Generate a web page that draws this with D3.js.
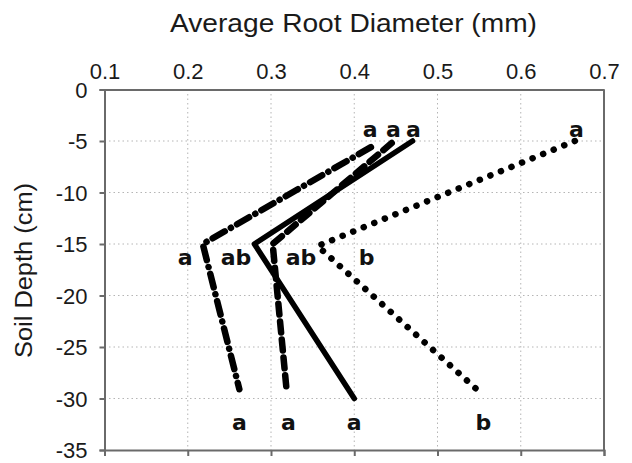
<!DOCTYPE html>
<html>
<head>
<meta charset="utf-8">
<script src="https://cdn.jsdelivr.net/npm/d3@7"></script>
<style>
  body { margin: 0; background: #fff; }
  svg { font-family: "Liberation Sans", Arial, sans-serif; }
</style>
</head>
<body>
<div id="chart"></div>
<script>
// depth of each sampling point (cm)
const depthTop = -5, depthMid = -15, depthLow = -30;

// root diameter (mm) for each treatment, at -5, -15, -30 cm
const solidVals = [0.47, 0.28, 0.40];
const dashedVals = [0.445, 0.302, 0.319];
const dashDotVals = [0.42, 0.218, 0.262];
const dottedVals = [0.665, 0.356, 0.547];
// the patterned lines stop a little above -30 in the picture
const solidDepths = [depthTop, depthMid, depthLow];
const dashedDepths = [-5.2, -15, -29.4];
const dashDotDepths = [-5.6, -15, -29.1];
const dottedDepths = [-5, -15.2, -29.1];

// significance letters: [x in mm, y in cm, text]
const topLetters = [[0.419, -3.9, 'a'], [0.447, -3.9, 'a'], [0.471, -3.9, 'a'], [0.667, -3.9, 'a']];
const midLetters = [[0.197, -16.3, 'a'], [0.258, -16.3, 'ab'], [0.336, -16.3, 'ab'], [0.415, -16.3, 'b']];
const lowLetters = [[0.262, -32.3, 'a'], [0.321, -32.3, 'a'], [0.4, -32.3, 'a'], [0.555, -32.3, 'b']];

const xTicks = [0.1, 0.2, 0.3, 0.4, 0.5, 0.6, 0.7];
const yTicks = [0, -5, -10, -15, -20, -25, -30, -35];

const width = 632, height = 463;
const margin = { top: 89.5, right: 28, bottom: 13, left: 104.5 };
const innerWidth = width - margin.left - margin.right;
const innerHeight = height - margin.top - margin.bottom;

const svg = d3.select('#chart').append('svg')
  .attr('width', width)
  .attr('height', height);

const x = d3.scaleLinear().domain([0.1, 0.7]).range([0, innerWidth]);
const y = d3.scaleLinear().domain([0, -35]).range([0, innerHeight]);

const g = svg.append('g').attr('transform', `translate(${margin.left},${margin.top})`);

// dotted grid
g.append('g').selectAll('line').data(xTicks.slice(1, -1))
  .enter().append('line')
  .attr('x1', d => x(d)).attr('x2', d => x(d))
  .attr('y1', 0).attr('y2', innerHeight)
  .attr('stroke', '#b5b5b5').attr('stroke-dasharray', '1.5 3');
g.append('g').selectAll('line').data(yTicks.slice(1, -1))
  .enter().append('line')
  .attr('y1', d => y(d)).attr('y2', d => y(d))
  .attr('x1', 0).attr('x2', innerWidth)
  .attr('stroke', '#b5b5b5').attr('stroke-dasharray', '1.5 3');

// axes
const axisColor = '#6a6a6a';
const leftAxis = g.append('g')
  .call(d3.axisLeft(y).tickValues(yTicks).tickFormat(d => String(d)).tickSize(5).tickPadding(12));
const topAxis = g.append('g')
  .call(d3.axisTop(x).tickValues(xTicks).tickFormat(d => d.toFixed(1)).tickSize(0).tickPadding(10.5));
const bottomAxis = g.append('g').attr('transform', `translate(0,${innerHeight})`)
  .call(d3.axisBottom(x).tickValues(xTicks).tickSize(6).tickFormat(''));
g.append('line')
  .attr('x1', innerWidth).attr('x2', innerWidth)
  .attr('y1', 0).attr('y2', innerHeight)
  .attr('stroke', axisColor).attr('stroke-width', 2);

[leftAxis, topAxis, bottomAxis].forEach(a => {
  a.attr('font-size', 22).attr('font-family', '"Liberation Sans", Arial, sans-serif');
  a.select('.domain').attr('stroke', axisColor).attr('stroke-width', 2);
  a.selectAll('.tick line').attr('stroke', axisColor).attr('stroke-width', 2);
  a.selectAll('text').attr('fill', '#1a1a1a');
});
leftAxis.selectAll('text').attr('dy', '0.36em');

// series lines
const line = d3.line().x(d => x(d[0])).y(d => y(d[1]));
const series = [
  { vals: dashDotVals, depths: dashDotDepths, dash: '14 7 0.1 7', w: 6.5 },
  { vals: dashedVals, depths: dashedDepths, dash: '11 7', w: 6.5 },
  { vals: dottedVals, depths: dottedDepths, dash: '0.1 11.3', w: 6.5 },
  { vals: solidVals, depths: solidDepths, dash: null, w: 5.5 }
];
series.forEach(s => {
  g.append('path')
    .datum(s.vals.map((v, i) => [v, s.depths[i]]))
    .attr('d', line)
    .attr('fill', 'none')
    .attr('stroke', '#000')
    .attr('stroke-width', s.w)
    .attr('stroke-linecap', 'round')
    .attr('stroke-linejoin', 'round')
    .attr('stroke-dasharray', s.dash);
});

// letters
g.append('g').selectAll('text').data(topLetters.concat(midLetters, lowLetters))
  .enter().append('text')
  .attr('x', d => x(d[0]))
  .attr('y', d => y(d[1]))
  .attr('dy', '0.35em')
  .attr('text-anchor', 'middle')
  .attr('font-size', 22)
  .attr('font-weight', 'bold')
  .attr('font-family', '"DejaVu Sans", sans-serif')
  .attr('fill', '#111')
  .text(d => d[2]);

// titles
svg.append('text')
  .attr('x', 170).attr('y', 32)
  .attr('font-size', 25)
  .attr('textLength', 367)
  .attr('lengthAdjust', 'spacingAndGlyphs')
  .attr('fill', '#1a1a1a')
  .text('Average Root Diameter (mm)');

svg.append('text')
  .attr('transform', 'translate(32,358) rotate(-90)')
  .attr('font-size', 23)
  .attr('textLength', 175)
  .attr('lengthAdjust', 'spacingAndGlyphs')
  .attr('fill', '#1a1a1a')
  .text('Soil Depth (cm)');
</script>
</body>
</html>
